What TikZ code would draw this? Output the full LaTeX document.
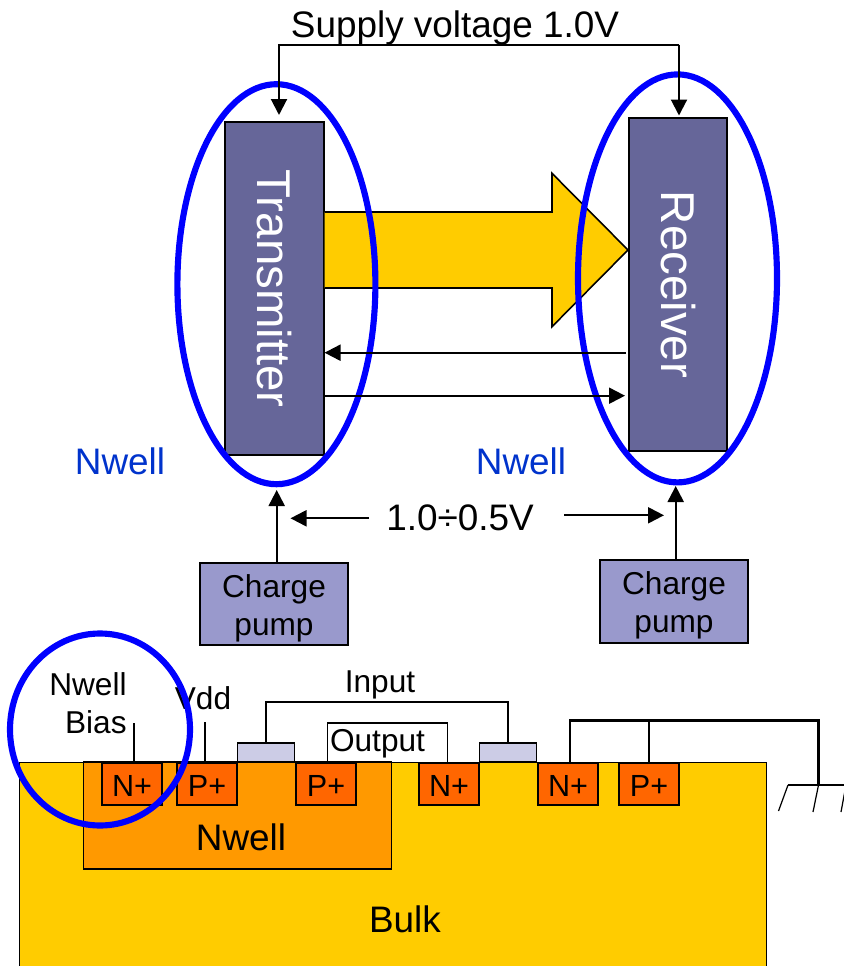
\documentclass[tikz,border=0pt]{standalone}
\usepackage{fontspec}
\setmainfont{Liberation Sans}
\usetikzlibrary{arrows.meta}
\newcommand{\pumplabel}{\rule{0pt}{17.6pt}Charge\\pump}

\begin{document}
\begin{tikzpicture}[x=0.02cm,y=-0.02cm]
% Colors
\definecolor{blockcolor}{HTML}{666699}
\definecolor{pumpcolor}{HTML}{9999CC}
\definecolor{gatecolor}{HTML}{CCCCE6}
\definecolor{bulkcolor}{HTML}{FFCC00}
\definecolor{wellcolor}{HTML}{FF9900}
\definecolor{dopecolor}{HTML}{FF6600}
\definecolor{ringcolor}{HTML}{0000FF}
\definecolor{welltext}{HTML}{0033CC}
% Styles
\tikzstyle{wire}=[draw=black,line width=1.2pt]
\tikzstyle{thin wire}=[draw=black,line width=0.7pt]
\tikzstyle{signal}=[wire,-{Triangle[length=0.32cm,width=0.32cm]}]
\tikzstyle{ring}=[draw=ringcolor,line width=3.5pt]
\tikzstyle{block}=[draw=black,line width=0.9pt,fill=blockcolor,text=white,minimum width=1.97cm,font=\fontsize{27}{32}\selectfont]
\tikzstyle{pump}=[draw=black,line width=0.9pt,fill=pumpcolor,minimum width=2.96cm,minimum height=1.65cm,inner sep=0pt,align=center,font=\fontsize{18}{21.5}\selectfont]
\tikzstyle{dope}=[draw=black,line width=0.8pt,fill=dopecolor,minimum width=1.2cm,minimum height=0.84cm,inner sep=0pt,text height=14pt,font=\fontsize{17.4}{20}\selectfont]
\tikzstyle{gate}=[draw=black,line width=0.8pt,fill=gatecolor,minimum width=1.15cm,minimum height=0.38cm,inner sep=0pt]
\tikzstyle{big text}=[anchor=base,inner sep=0pt,font=\fontsize{21}{25}\selectfont]
\tikzstyle{small text}=[anchor=base,inner sep=0pt,font=\fontsize{18}{21.5}\selectfont]
\useasboundingbox (0,0) rectangle (844,966);
% The substrate
\node[draw=black,line width=0.6pt,fill=bulkcolor,minimum width=14.96cm,minimum height=4.4cm,inner sep=0pt] (bulk) at (393,872) {};
\node[draw=black,line width=1pt,fill=wellcolor,minimum width=6.16cm,minimum height=2.13cm,inner sep=0pt] (well) at (237.5,815.5) {};
\node[big text] (well label) at (241,850) {Nwell};
\node[big text] (bulk label) at (405,932) {Bulk};
\foreach \name/\xpos/\ytext in {na/132/N+, pa/207/P+, pb/326/P+, nb/449/N+, nc/568/N+, pc/649/P+}
  \node[dope] (\name) at (\xpos,784) {\ytext};
\node[gate] (gate a) at (266,752.5) {};
\node[gate] (gate b) at (508,752.5) {};
% Contacts
\coordinate (bias top) at (134,723);
\coordinate (vdd top) at (205,722);
\coordinate (out top) at (327.5,723);
\coordinate (gnd top) at (570,720.5);
\coordinate (gnd bar) at (818.5,785);
\draw[thin wire] (bias top) -- (bias top |- na.north);
\draw[thin wire] (vdd top) -- (vdd top |- pa.north);
\draw[wire] (gate a.north) -- ++(0,-40) -| (gate b.north);
\draw[thin wire] (out top |- pb.north) -- (out top) -| ([xshift=-0.03cm]nb.north);
\draw[wire] (gnd top |- nc.north) -- (gnd top) -| (gnd bar);
\draw[thin wire] (pc.north) -- (pc.north |- gnd top);
% Ground
\coordinate (gnd left) at (788,785);
\coordinate (gnd right) at (846,785);
\draw[wire] (gnd left) -- (gnd right);
\draw[thin wire] (gnd left) -- ++(-9.5,26);
\draw[thin wire] (gnd bar) -- ++(-5.5,27);
\draw[thin wire] (gnd right) -- ++(-5,27);
\node[small text,align=right,anchor=base east] (bias label) at (127,733) {Nwell\\Bias};
\node[small text] (vdd label) at (203,709) {Vdd};
\node[small text] (input label) at (380,692.5) {Input};
\node[small text] (output label) at (377.5,751) {Output};
\draw[ring] (100,729.5) ellipse (90 and 96);
% The link
\node[block,minimum height=6.66cm] (transmitter) at (274.5,288.7) {\rotatebox{-90}{Transmitter}};
\node[block,minimum height=6.67cm] (receiver) at (678,284.5) {\rotatebox{-90}{Receiver}};
\draw[draw=black,line width=0.9pt,fill=bulkcolor] (transmitter.east |- 0,212) -- (552,212) -- (552,173.3)
  -- (receiver.west |- 0,250) -- (552,326.7) -- (552,288) -- (transmitter.east |- 0,288);
\draw[ring] (276.4,284.2) ellipse (99 and 200);
\draw[ring] (677.5,278.4) ellipse (99.5 and 204);
% The rails
\node[big text] (supply) at (455,37.5) {Supply voltage 1.0V};
\coordinate (rail left) at (279,44.7);
\coordinate (rail right) at (679,44.7);
\coordinate (tx in) at (279,115);
\coordinate (rx in) at (679,115.5);
\draw[signal] (rail right) -- (rx in);
\draw[signal] (rail right) -| (tx in);
\coordinate (back start) at (625.6,352.7);
\coordinate (fwd end) at (625,395.7);
\draw[signal] (back start) -- (transmitter.east |- back start);
\draw[signal] (transmitter.east |- fwd end) -- (fwd end);
\node[big text,text=welltext] (nwell left) at (120,474) {Nwell};
\node[big text,text=welltext] (nwell right) at (521,474) {Nwell};
% The pumps
\node[pump] (pump left) at (274,604) {\pumplabel};
\node[pump] (pump right) at (674,601.5) {\pumplabel};
\coordinate (tx well) at (276.7,490);
\coordinate (rx well) at (675.7,486);
\draw[signal] (tx well |- pump left.north) -- (tx well);
\draw[signal] (rx well |- pump right.north) -- (rx well);
\node[big text] (bias volt) at (460,530) {1.0÷0.5V};
\coordinate (volt a) at (369,518.3);
\coordinate (volt b) at (290.5,518.3);
\coordinate (volt c) at (564,515.3);
\coordinate (volt d) at (664,515.3);
\draw[signal] (volt a) -- (volt b);
\draw[signal] (volt c) -- (volt d);
\end{tikzpicture}
\end{document}
